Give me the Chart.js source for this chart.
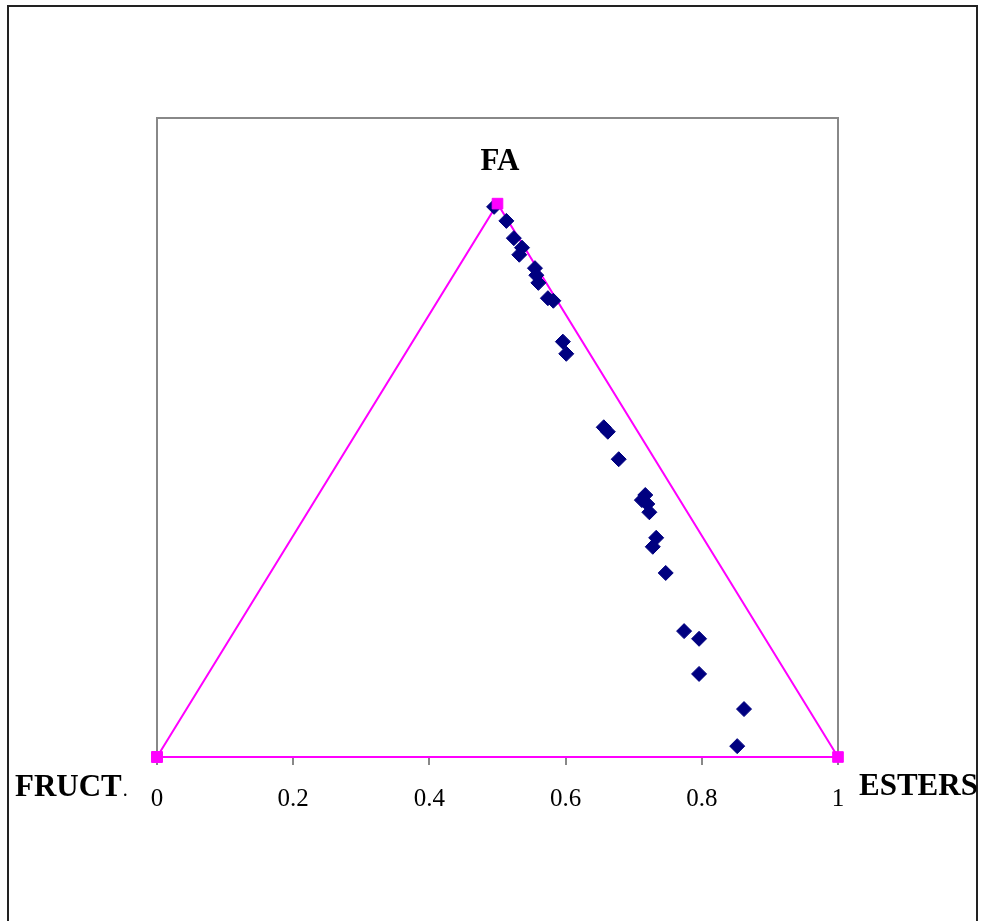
<!DOCTYPE html>
<html>
<head>
<meta charset="utf-8">
<script src="https://cdn.jsdelivr.net/npm/chart.js@4.4.1/dist/chart.umd.min.js"></script>
<style>
  html, body { margin: 0; padding: 0; background: #fff; }
  #wrap { position: relative; width: 985px; height: 921px; }
</style>
</head>
<body>
<div id="wrap"><canvas id="c" width="985" height="921"></canvas></div>
<script>
// ---- data ----
const sampleX = [0.495, 0.513, 0.524, 0.536, 0.532, 0.555, 0.557, 0.560, 0.574, 0.582,
                 0.596, 0.601, 0.656, 0.662, 0.678, 0.717, 0.712, 0.720, 0.723, 0.733,
                 0.728, 0.747, 0.774, 0.796, 0.796, 0.862, 0.852];
const sampleY = [0.861, 0.839, 0.812, 0.797, 0.786, 0.765, 0.754, 0.742, 0.718, 0.714,
                 0.650, 0.631, 0.516, 0.509, 0.466, 0.410, 0.402, 0.396, 0.383, 0.343,
                 0.329, 0.288, 0.197, 0.185, 0.130, 0.075, 0.017];
const triangleX = [0, 0.5, 1, 0];
const triangleY = [0, 0.866, 0, 0];
const xTickValues = [0, 0.2, 0.4, 0.6, 0.8, 1];
const xTickLabels = ['0', '0.2', '0.4', '0.6', '0.8', '1'];
const cornerLabels = { left: 'FRUCT', top: 'FA', right: 'ESTERS' };

const samples = sampleX.map((x, i) => ({ x: x, y: sampleY[i] }));
const triangle = triangleX.map((x, i) => ({ x: x, y: triangleY[i] }));

const decor = {
  id: 'decor',
  beforeDraw(chart) {
    const ctx = chart.ctx;
    ctx.save();
    ctx.fillStyle = '#fff';
    ctx.fillRect(0, 0, chart.width, chart.height);
    ctx.strokeStyle = '#222';
    ctx.lineWidth = 2;
    ctx.beginPath();
    ctx.moveTo(8, 930); ctx.lineTo(8, 6); ctx.lineTo(977, 6); ctx.lineTo(977, 930);
    ctx.stroke();
    const a = chart.chartArea;
    ctx.strokeStyle = '#888';
    ctx.lineWidth = 2;
    ctx.strokeRect(a.left, a.top, a.right - a.left, a.bottom - a.top);
    ctx.restore();
  },
  afterDraw(chart) {
    const ctx = chart.ctx;
    ctx.save();
    ctx.fillStyle = '#000';
    ctx.textBaseline = 'alphabetic';
    ctx.font = 'bold 31px "Liberation Serif", "Times New Roman", serif';
    ctx.textAlign = 'left';
    ctx.fillText(cornerLabels.left, 15, 796);
    const w = ctx.measureText(cornerLabels.left).width;
    ctx.font = '20px "Liberation Serif", serif';
    ctx.fillText('.', 15 + w + 1, 796);
    ctx.font = 'bold 31px "Liberation Serif", "Times New Roman", serif';
    ctx.fillText(cornerLabels.right, 859, 795);
    ctx.textAlign = 'center';
    ctx.fillText(cornerLabels.top, 500, 170);
    ctx.restore();
  }
};

new Chart(document.getElementById('c'), {
  type: 'scatter',
  data: {
    datasets: [
      {
        label: 'triangle markers',
        data: triangle,
        showLine: false,
        pointStyle: 'rect',
        pointRadius: 7.5,
        pointHoverRadius: 7.5,
        pointBackgroundColor: '#ff00ff',
        pointBorderColor: '#ff00ff',
        pointBorderWidth: 1,
        clip: false,
        order: -1
      },
      {
        label: 'samples',
        data: samples,
        pointStyle: 'rectRot',
        pointRadius: 7.5,
        pointHoverRadius: 7.5,
        backgroundColor: '#000080',
        borderColor: '#000080',
        borderWidth: 1,
        clip: false,
        order: 0
      },
      {
        label: 'triangle',
        data: triangle,
        showLine: true,
        borderColor: '#ff00ff',
        borderWidth: 2,
        pointRadius: 0,
        pointHoverRadius: 0,
        clip: false,
        order: 1
      }
    ]
  },
  options: {
    responsive: false,
    animation: false,
    events: [],
    layout: { padding: { left: 157, right: 147, top: 118, bottom: 0 } },
    plugins: { legend: { display: false }, tooltip: { enabled: false } },
    scales: {
      x: {
        type: 'linear',
        min: 0, max: 1,
        afterBuildTicks: s => { s.ticks = xTickValues.map(v => ({ value: v })); },
        afterFit: s => { s.height = 164; },
        ticks: {
          callback: (v, i) => xTickLabels[i],
          color: '#000',
          font: { family: '"Liberation Serif", "Times New Roman", serif', size: 25 },
          padding: 19,
          maxRotation: 0,
          autoSkip: false
        },
        grid: { drawOnChartArea: false, drawTicks: true, tickLength: 8, color: '#888', lineWidth: 2 },
        border: { display: true, color: '#888', width: 2 }
      },
      y: {
        type: 'linear',
        min: 0, max: 1,
        display: false
      }
    }
  },
  plugins: [decor]
});
</script>
</body>
</html>
